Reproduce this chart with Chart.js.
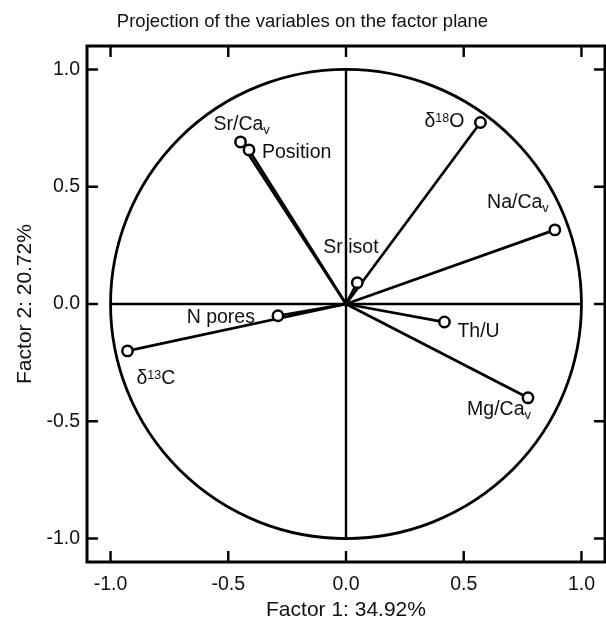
<!DOCTYPE html>
<html>
<head>
<meta charset="utf-8">
<script src="https://cdn.jsdelivr.net/npm/chart.js@4.4.1/dist/chart.umd.min.js"></script>
<style>
html,body{margin:0;padding:0;background:#fff;}
#wrap{width:606px;height:620px;}
</style>
</head>
<body>
<div id="wrap"><canvas id="c" width="606" height="620"></canvas></div>
<script>
// ---- data ----
const chartTitle = 'Projection of the variables on the factor plane';
const xTitle = 'Factor 1: 34.92%';
const yTitle = 'Factor 2: 20.72%';
// "_x" = subscript, "^nn" = superscript
const variables = ['Sr/Ca_v', 'Position', 'δ^18O', 'Na/Ca_v', 'Sr isot', 'Th/U', 'Mg/Ca_v', 'N pores', 'δ^13C'];
const factor1 = [-0.448, -0.412, 0.571, 0.887, 0.048, 0.418, 0.773, -0.289, -0.928];
const factor2 = [0.691, 0.657, 0.774, 0.316, 0.091, -0.077, -0.400, -0.050, -0.200];
const tickValues = [-1, -0.5, 0, 0.5, 1];
const tickLabels = ['-1.0', '-0.5', '0.0', '0.5', '1.0'];

// ---- styles / label placement (pixels relative to each marker) ----
const FONT = "'Liberation Sans', Arial, Helvetica, sans-serif";
const INK = '#111';
const labelPlacement = [
  {dx: -27, dy: -12, align: 'left'},
  {dx: 13, dy: 8, align: 'left'},
  {dx: -16, dy: 5, align: 'right'},
  {dx: -6, dy: -22, align: 'right'},
  {dx: -34, dy: -30, align: 'left'},
  {dx: 13, dy: 15, align: 'left'},
  {dx: 3, dy: 17, align: 'right'},
  {dx: -23, dy: 7, align: 'right'},
  {dx: 9, dy: 33, align: 'left'}
];

Chart.defaults.font.family = FONT;
Chart.defaults.color = INK;

const vectorSets = variables.map((name, i) => ({
  label: name,
  data: [{x: 0, y: 0}, {x: factor1[i], y: factor2[i]}],
  showLine: true,
  borderColor: '#000',
  borderWidth: 2.7,
  pointRadius: 0,
  fill: false
}));
const pointSet = {
  label: 'variables',
  data: factor1.map((x, i) => ({x: x, y: factor2[i]})),
  showLine: false,
  pointRadius: 5.2,
  pointBackgroundColor: '#fff',
  pointBorderColor: '#000',
  pointBorderWidth: 2.5
};

function parseRich(s) {
  const parts = s.split(/(\^\d+|_\w+)/).filter(p => p.length);
  return parts.map(p => {
    if (p[0] === '^') return {t: p.slice(1), kind: 'sup'};
    if (p[0] === '_') return {t: p.slice(1), kind: 'sub'};
    return {t: p, kind: 'n'};
  });
}
const segFont = {n: '19.5px ' + FONT, sub: '13px ' + FONT, sup: '12.5px ' + FONT};
const segShift = {n: 0, sub: 4.5, sup: -5};

const decor = {
  id: 'decor',
  beforeDatasetsDraw(chart) {
    const {ctx, scales: {x, y}} = chart;
    const cx = x.getPixelForValue(0), cy = y.getPixelForValue(0);
    const rx = x.getPixelForValue(1) - cx, ry = cy - y.getPixelForValue(1);
    ctx.save();
    ctx.strokeStyle = '#000';
    ctx.lineWidth = 2.8;
    ctx.beginPath();
    ctx.ellipse(cx, cy, rx, ry, 0, 0, Math.PI * 2);
    ctx.stroke();
    ctx.lineWidth = 2.4;
    ctx.beginPath();
    ctx.moveTo(x.getPixelForValue(-1), cy);
    ctx.lineTo(x.getPixelForValue(1), cy);
    ctx.moveTo(cx, y.getPixelForValue(-1));
    ctx.lineTo(cx, y.getPixelForValue(1));
    ctx.stroke();
    ctx.restore();
  },
  afterDatasetsDraw(chart) {
    const {ctx, chartArea: a, scales: {x, y}} = chart;
    ctx.save();
    // frame
    ctx.strokeStyle = '#000';
    ctx.lineWidth = 3;
    ctx.strokeRect(a.left, a.top, a.right - a.left, a.bottom - a.top);
    // inward ticks, all four sides
    ctx.lineWidth = 2.4;
    const tl = 11;
    ctx.beginPath();
    tickValues.forEach(v => {
      const px = x.getPixelForValue(v);
      ctx.moveTo(px, a.bottom); ctx.lineTo(px, a.bottom - tl);
      ctx.moveTo(px, a.top); ctx.lineTo(px, a.top + tl);
      const py = y.getPixelForValue(v);
      ctx.moveTo(a.left, py); ctx.lineTo(a.left + tl, py);
      ctx.moveTo(a.right, py); ctx.lineTo(a.right - tl, py);
    });
    ctx.stroke();
    // variable labels
    ctx.fillStyle = INK;
    ctx.textBaseline = 'alphabetic';
    ctx.textAlign = 'left';
    variables.forEach((name, i) => {
      const segs = parseRich(name);
      let w = 0;
      segs.forEach(s => { ctx.font = segFont[s.kind]; s.w = ctx.measureText(s.t).width; w += s.w; });
      const pl = labelPlacement[i];
      let tx = x.getPixelForValue(factor1[i]) + pl.dx;
      const ty = y.getPixelForValue(factor2[i]) + pl.dy;
      if (pl.align === 'right') tx -= w;
      segs.forEach(s => {
        ctx.font = segFont[s.kind];
        ctx.fillText(s.t, tx, ty + segShift[s.kind]);
        tx += s.w;
      });
    });
    ctx.restore();
  }
};

function zeroPad(s) { s.paddingLeft = 0; s.paddingRight = 0; s.paddingTop = 0; s.paddingBottom = 0; }

new Chart(document.getElementById('c'), {
  type: 'scatter',
  data: {datasets: [pointSet].concat(vectorSets)},
  options: {
    responsive: false,
    animation: false,
    devicePixelRatio: 1,
    layout: {autoPadding: false, padding: {left: 0, right: 1, top: 0, bottom: 0}},
    plugins: {
      legend: {display: false},
      tooltip: {enabled: false},
      title: {
        display: true,
        text: chartTitle,
        color: INK,
        font: {size: 18.5, weight: 'normal', family: FONT, lineHeight: 1.2},
        padding: {top: 11.2, bottom: 12.6}
      }
    },
    scales: {
      x: {
        type: 'linear',
        min: -1.1, max: 1.1,
        afterBuildTicks: s => { s.ticks = tickValues.map(v => ({value: v})); },
        afterFit: s => { s.height = 58; zeroPad(s); },
        grid: {display: false, drawTicks: false},
        border: {display: false},
        ticks: {
          padding: 11,
          color: INK,
          font: {size: 19.5, family: FONT},
          maxRotation: 0,
          callback: (v, i) => tickLabels[i]
        },
        title: {
          display: true, text: xTitle, color: INK,
          font: {size: 21, family: FONT, lineHeight: 0.9},
          padding: {top: 0, bottom: 0}
        }
      },
      y: {
        type: 'linear',
        min: -1.1, max: 1.1,
        afterBuildTicks: s => { s.ticks = tickValues.map(v => ({value: v})); },
        afterFit: s => { s.width = 87; zeroPad(s); },
        grid: {display: false, drawTicks: false},
        border: {display: false},
        ticks: {
          padding: 7,
          color: INK,
          font: {size: 19.5, family: FONT},
          callback: (v, i) => tickLabels[i]
        },
        title: {
          display: true, text: yTitle, color: INK,
          font: {size: 21, family: FONT, lineHeight: 1.2},
          padding: {top: 13, bottom: 0}
        }
      }
    }
  },
  plugins: [decor]
});
</script>
</body>
</html>
